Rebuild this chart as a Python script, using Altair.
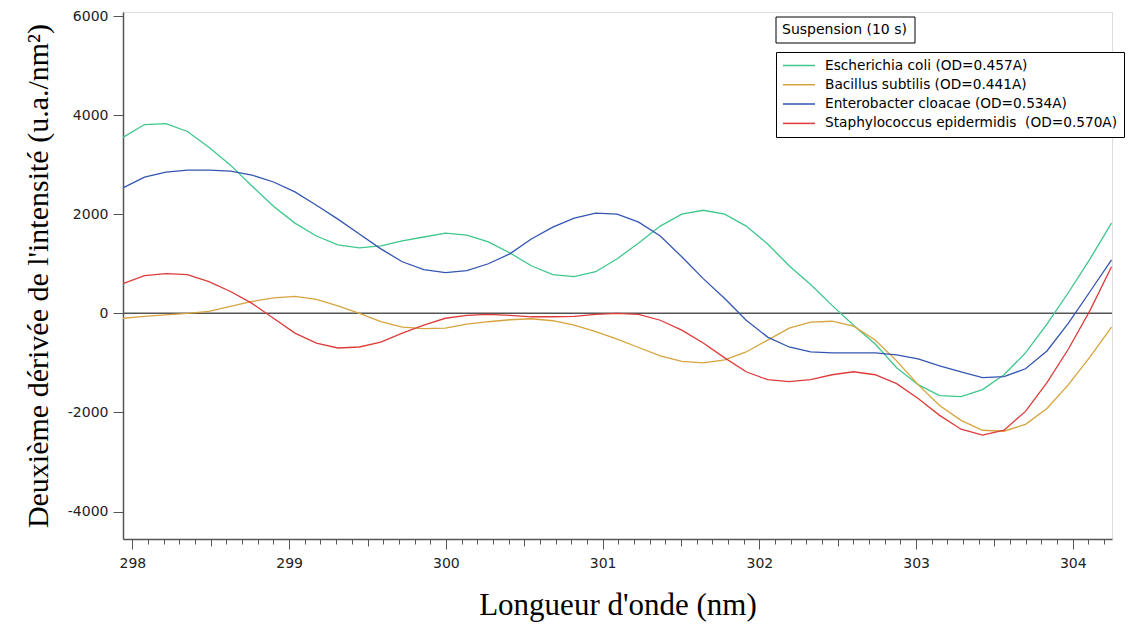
import altair as alt
import pandas as pd

# ---- data ----
wavelength = [297.940, 298.077, 298.214, 298.351, 298.488, 298.626, 298.763, 298.900,
              299.037, 299.174, 299.311, 299.448, 299.585, 299.722, 299.859, 299.997,
              300.134, 300.271, 300.408, 300.545, 300.682, 300.819, 300.956, 301.093,
              301.230, 301.368, 301.505, 301.642, 301.779, 301.916, 302.053, 302.190,
              302.327, 302.464, 302.601, 302.739, 302.876, 303.013, 303.150, 303.287,
              303.424, 303.561, 303.698, 303.835, 303.972, 304.110, 304.247]

e_coli = [3550, 3810, 3830, 3670, 3350, 2990, 2570, 2160, 1820, 1560, 1380, 1320,
          1360, 1460, 1540, 1620, 1580, 1440, 1220, 960, 780, 740, 840, 1100,
          1420, 1760, 2000, 2080, 2000, 1760, 1400, 960, 580, 160, -240, -620,
          -1100, -1440, -1660, -1680, -1540, -1240, -800, -220, 420, 1100, 1820]

b_subtilis = [-100, -60, -30, 0, 40, 140, 240, 310, 340, 280, 150, 0,
              -170, -280, -310, -300, -220, -170, -130, -110, -150, -240, -370, -520,
              -690, -860, -970, -1000, -940, -780, -540, -300, -180, -160, -260, -540,
              -960, -1440, -1860, -2160, -2360, -2380, -2240, -1920, -1440, -880, -280]

e_cloacae = [2530, 2750, 2850, 2890, 2890, 2870, 2790, 2650, 2450, 2180, 1900, 1600,
             1300, 1040, 880, 820, 860, 1000, 1200, 1500, 1740, 1920, 2020, 2000,
             1840, 1560, 1140, 700, 300, -140, -480, -680, -780, -800, -800, -800,
             -840, -920, -1060, -1180, -1300, -1280, -1120, -760, -200, 440, 1080]

s_epidermidis = [600, 760, 800, 780, 640, 440, 200, -100, -400, -600, -700, -680,
                 -580, -400, -240, -100, -40, -20, -40, -70, -70, -60, -20, 0,
                 -20, -140, -340, -600, -900, -1180, -1340, -1380, -1340, -1240, -1180, -1240,
                 -1420, -1720, -2060, -2340, -2460, -2360, -1980, -1400, -720, 60, 940]

series_names = ["Escherichia coli (OD=0.457A)",
                "Bacillus subtilis (OD=0.441A)",
                "Enterobacter cloacae (OD=0.534A)",
                "Staphylococcus epidermidis\u00a0 (OD=0.570A)"]
series_colors = ["#3ec78c", "#d6a43e", "#3456b2", "#de3b3b"]

x_major = [298, 299, 300, 301, 302, 303, 304]
x_medium = [298.5, 299.5, 300.5, 301.5, 302.5, 303.5]
x_minor = [round(298 + 0.1 * k, 1) for k in range(63)]
y_ticks = [-4000, -2000, 0, 2000, 4000, 6000]
zero_level = [0]
box_title = ["Suspension (10 s)"]

# ---- build table ----
rows = []
for name, vals in zip(series_names, [e_coli, b_subtilis, e_cloacae, s_epidermidis]):
    for w, v in zip(wavelength, vals):
        rows.append({"wl": w, "val": v, "serie": name})
df = pd.DataFrame(rows)

SANS = "DejaVu Sans"
SERIF = "Liberation Serif"
AX = "#555555"

x_dom = [297.94, 304.25]
y_dom = [-4555, 6081]
xs = alt.Scale(domain=x_dom, nice=False, zero=False)
ys = alt.Scale(domain=y_dom, nice=False, zero=False)

y_axis = alt.Axis(values=y_ticks, labelExpr="'' + datum.value",
                  title="Deuxième dérivée de l'intensité (u.a./nm²)",
                  titleFont=SERIF, titleFontSize=30, titleFontWeight="normal",
                  titleColor="black", titlePadding=14,
                  labelFont=SANS, labelFontSize=14, labelColor="#222222",
                  labelPadding=5, tickSize=10, tickColor=AX, domainColor=AX,
                  domainWidth=1.5, tickWidth=1, grid=False)

x_axis_major = alt.Axis(values=x_major, format="d", orient="bottom",
                        title="Longueur d'onde (nm)", titleFont=SERIF,
                        titleFontSize=31, titleFontWeight="normal", titleColor="black",
                        titlePadding=20, labelFont=SANS, labelFontSize=14,
                        labelColor="#222222", labelPadding=7, tickSize=10,
                        tickColor=AX, domainColor=AX, domainWidth=1.5, tickWidth=1,
                        grid=False)
x_axis_med = alt.Axis(values=x_medium, orient="bottom", title=None, labels=False,
                      domain=False, tickSize=7, tickColor=AX, tickWidth=1, grid=False)
x_axis_min = alt.Axis(values=x_minor, orient="bottom", title=None, labels=False,
                      domain=False, tickSize=5, tickColor=AX, tickWidth=1, grid=False)

zero = alt.Chart(pd.DataFrame({"y": zero_level})).mark_rule(
    color="#555555", strokeWidth=1.5
).encode(y=alt.Y("y:Q", scale=ys, axis=y_axis))

lines = alt.Chart(df).mark_line(strokeWidth=1.3).encode(
    x=alt.X("wl:Q", scale=xs, axis=x_axis_major),
    y=alt.Y("val:Q", scale=ys, axis=y_axis),
    color=alt.Color("serie:N", scale=alt.Scale(domain=series_names, range=series_colors),
                    legend=alt.Legend(orient="none", legendX=653, legendY=40, title=None,
                                      strokeColor="black", fillColor="white", padding=6,
                                      cornerRadius=0, labelFont=SANS, labelFontSize=13.7,
                                      labelColor="black", symbolType="stroke",
                                      symbolSize=1024, symbolStrokeWidth=1.5,
                                      clipHeight=15, rowPadding=4.3, labelOffset=9,
                                      labelLimit=400)),
    detail="serie:N",
)

med_ticks = alt.Chart(pd.DataFrame({"t": x_medium})).mark_point(opacity=0).encode(
    x=alt.X("t:Q", scale=xs, axis=x_axis_med))
min_ticks = alt.Chart(pd.DataFrame({"t": x_minor})).mark_point(opacity=0).encode(
    x=alt.X("t:Q", scale=xs, axis=x_axis_min))

title_df = pd.DataFrame({"label": box_title})
title_box = alt.Chart(title_df).mark_rect(fill="white", stroke="black", strokeWidth=1).encode(
    x=alt.value(653), x2=alt.value(792), y=alt.value(5), y2=alt.value(31))
title_text = alt.Chart(title_df).mark_text(font=SANS, fontSize=14, align="left",
                                           baseline="middle", color="black").encode(
    x=alt.value(659), y=alt.value(18), text="label:N")

chart = alt.layer(zero, lines, med_ticks, min_ticks, title_box, title_text).resolve_axis(
    x="independent"
).properties(
    width=989, height=527,
    padding={"left": 115, "top": 4, "right": 15, "bottom": 85},
    autosize=alt.AutoSizeParams(type="none"),
).configure_view(stroke=None).configure(background="white")

chart.save("out.html", embed_options={"renderer": "svg", "actions": False})
